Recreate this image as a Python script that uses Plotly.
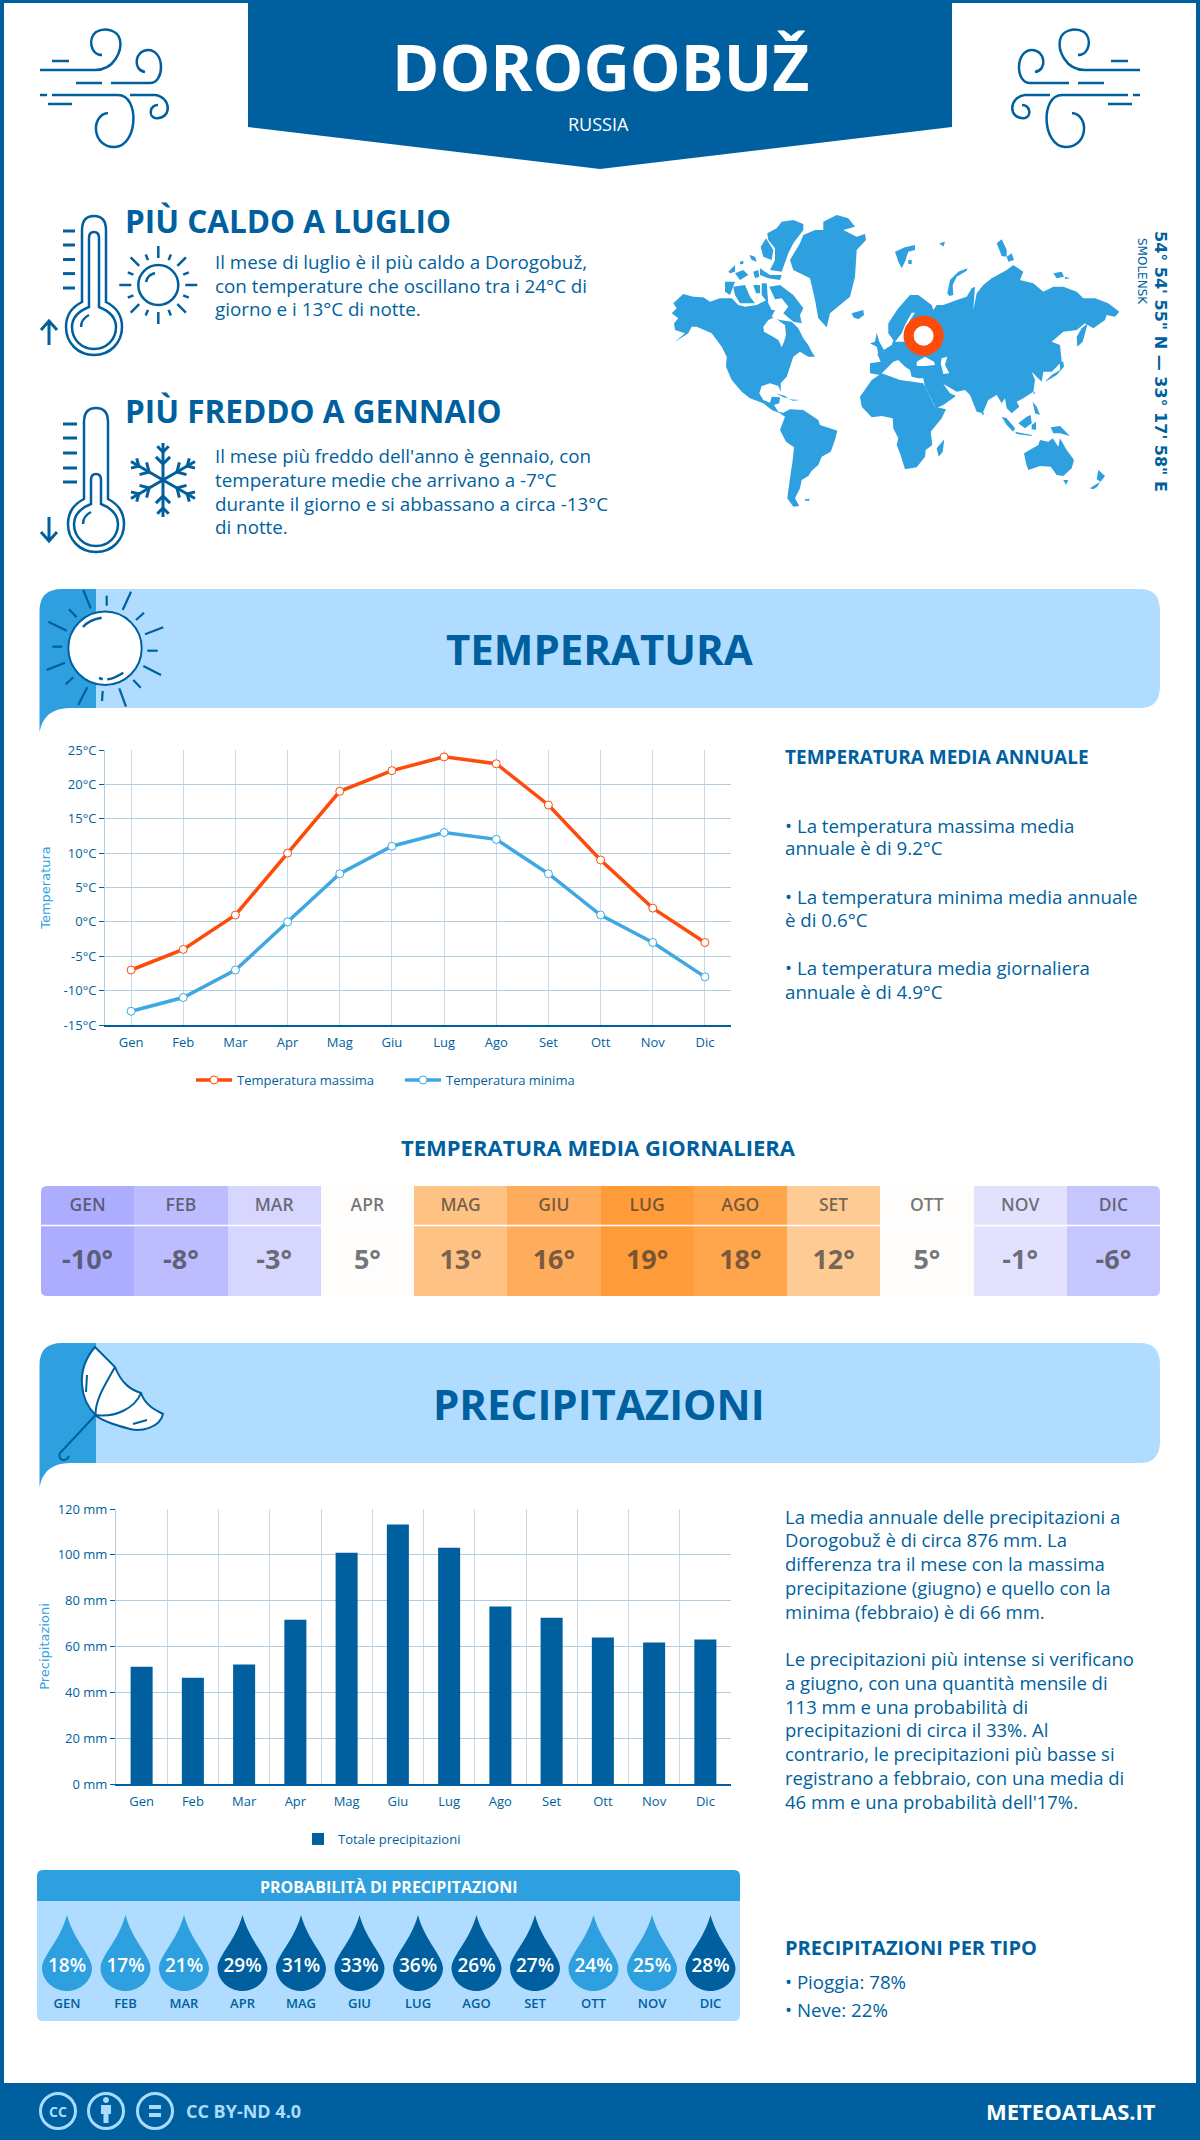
import math
import re
import plotly.graph_objects as go

# Colores
DARK = "#005f9e"
MID = "#2e9fdf"
LIGHT = "#b0dcff"
HOT = "#ff4b0a"
COLD = "#3fa7e2"
GRID_H = "#b3cde0"
GRID_V = "#c6d9e8"
FONT = "Open Sans"

# Datos
MONTHS = ["Gen", "Feb", "Mar", "Apr", "Mag", "Giu", "Lug", "Ago", "Set", "Ott", "Nov", "Dic"]
MONTHS_UP = ["GEN", "FEB", "MAR", "APR", "MAG", "GIU", "LUG", "AGO", "SET", "OTT", "NOV", "DIC"]
TEMP_MAX = [-7, -4, 1, 10, 19, 22, 24, 23, 17, 9, 2, -3]
TEMP_MIN = [-13, -11, -7, 0, 7, 11, 13, 12, 7, 1, -3, -8]
TEMP_AVG = [-10, -8, -3, 5, 13, 16, 19, 18, 12, 5, -1, -6]
PRECIP = [51.2, 46.4, 52.1, 71.7, 100.9, 113.2, 103.1, 77.4, 72.6, 63.9, 61.7, 63]
PROB = [18, 17, 21, 29, 31, 33, 36, 26, 27, 24, 25, 28]
TEMP_TICKS = [-15, -10, -5, 0, 5, 10, 15, 20, 25]
PRECIP_TICKS = [0, 20, 40, 60, 80, 100, 120]
HEAT_STOPS = [(-10, "#adadff"), (-8, "#bcbcff"), (-6, "#c6c6ff"), (-3, "#d6d6ff"), (-1, "#e2e2ff"),
              (5, "#fefdfb"), (12, "#ffcb95"), (13, "#ffc285"), (16, "#ffad5c"), (18, "#ffa64d"), (19, "#ff9c39")]

HOT_TEXT = ["Il mese di luglio è il più caldo a Dorogobuž,",
            "con temperature che oscillano tra i 24°C di",
            "giorno e i 13°C di notte."]
COLD_TEXT = ["Il mese più freddo dell'anno è gennaio, con",
             "temperature medie che arrivano a -7°C",
             "durante il giorno e si abbassano a circa -13°C",
             "di notte."]
ANNUAL_TEXT = [("• La temperatura massima media", 825), ("annuale è di 9.2°C", 847),
               ("• La temperatura minima media annuale", 896), ("è di 0.6°C", 919),
               ("• La temperatura media giornaliera", 967), ("annuale è di 4.9°C", 991)]
PRECIP_TEXT = [("La media annuale delle precipitazioni a", 1516),
               ("Dorogobuž è di circa 876 mm. La", 1539),
               ("differenza tra il mese con la massima", 1563),
               ("precipitazione (giugno) e quello con la", 1587),
               ("minima (febbraio) è di 66 mm.", 1611),
               ("Le precipitazioni più intense si verificano", 1658),
               ("a giugno, con una quantità mensile di", 1682),
               ("113 mm e una probabilità di", 1706),
               ("precipitazioni di circa il 33%. Al", 1729),
               ("contrario, le precipitazioni più basse si", 1753),
               ("registrano a febbraio, con una media di", 1777),
               ("46 mm e una probabilità dell'17%.", 1801)]

# Contornos del mapa, cada grupo medido sobre un recorte 3x con su origen
MAP_A = (660, 210, [
    [(35, 310), (50, 295), (40, 280), (70, 252), (100, 260), (130, 262), (150, 275), (180, 265), (215, 265),
     (235, 285), (255, 290), (290, 285), (320, 270), (335, 300), (345, 300), (335, 320), (360, 330), (395, 335),
     (415, 355), (430, 385), (445, 405), (455, 425), (465, 440), (445, 440), (420, 425), (400, 440), (390, 470),
     (380, 500), (362, 520), (362, 545), (355, 528), (330, 520), (305, 528), (298, 550), (310, 570), (330, 578),
     (335, 560), (360, 562), (358, 580), (342, 585), (355, 605), (370, 608), (390, 598), (430, 600), (475, 630),
     (480, 645), (532, 662), (525, 690), (512, 725), (485, 740), (475, 765), (455, 782), (445, 798), (425, 810),
     (420, 835), (405, 865), (418, 888), (400, 890), (382, 865), (388, 820), (398, 750), (402, 712), (378, 695),
     (360, 660), (375, 620), (360, 610), (335, 600), (310, 580), (270, 565), (245, 545), (215, 510), (198, 470),
     (200, 440), (185, 410), (155, 370), (110, 350), (95, 350), (85, 370), (45, 395), (75, 370), (45, 360),
     (42, 340), (55, 325)],
    [(390, 150), (420, 100), (430, 75), (465, 60), (490, 60), (490, 35), (530, 15), (565, 25), (585, 50), (550, 60),
     (590, 80), (615, 72), (618, 90), (590, 120), (585, 200), (570, 260), (510, 310), (500, 352), (475, 325),
     (465, 270), (450, 205), (400, 180)],
    [(322, 70), (350, 55), (365, 35), (400, 30), (430, 42), (430, 60), (400, 100), (385, 130), (365, 185), (330, 180),
     (345, 150), (345, 115), (325, 90)],
    [(302, 110), (318, 85), (340, 120), (335, 150), (310, 140)],
    [(300, 175), (330, 195), (365, 195), (360, 210), (325, 205), (300, 195)],
    [(328, 230), (360, 225), (400, 255), (430, 295), (420, 315), (425, 340), (400, 335), (370, 310), (385, 290),
     (365, 265), (345, 268)],
    [(220, 230), (255, 225), (270, 260), (285, 280), (240, 280), (225, 255)],
    [(195, 215), (225, 215), (210, 255), (195, 245)],
    [(205, 185), (225, 165), (225, 185), (210, 190)],
    [(225, 190), (250, 180), (265, 195), (240, 210)],
    [(280, 185), (295, 180), (298, 200), (285, 205)],
    [(280, 225), (300, 225), (300, 250), (288, 250)],
    [(305, 220), (320, 220), (325, 280), (305, 255)],
    [(268, 135), (285, 140), (290, 155), (275, 150)],
    [(240, 155), (250, 152), (250, 162), (240, 163)],
    [(575, 310), (610, 300), (612, 315), (595, 328), (580, 322)],
])
MAP_B = (860, 230, [
    [(85, 280), (115, 235), (150, 195), (175, 195), (215, 225), (220, 240), (230, 225), (250, 225), (290, 210),
     (320, 200), (335, 175), (345, 170), (340, 240), (350, 190), (370, 165), (395, 145), (440, 120), (460, 105),
     (490, 125), (480, 150), (520, 160), (550, 185), (580, 170), (610, 170), (650, 185), (670, 205), (705, 205),
     (745, 220), (778, 245), (765, 260), (740, 255), (735, 270), (700, 295), (675, 280), (650, 300), (610, 305),
     (575, 335), (600, 345), (605, 395), (575, 425), (550, 425), (545, 455), (515, 425), (525, 450), (520, 485),
     (490, 505), (470, 515), (478, 530), (455, 550), (440, 535), (435, 505), (425, 520), (410, 495), (385, 510),
     (368, 550), (350, 545), (330, 495), (315, 480), (290, 485), (265, 470), (250, 462), (270, 490), (288, 498),
     (250, 525), (228, 535), (195, 470), (190, 445), (175, 445), (155, 440), (150, 420), (135, 410), (115, 390),
     (100, 395), (85, 410), (60, 435), (30, 430), (30, 400), (62, 395), (52, 372), (95, 345), (100, 330), (85, 310)],
    [(105, 65), (135, 52), (165, 45), (165, 60), (145, 65), (135, 95), (125, 115), (115, 95)],
    [(145, 90), (155, 90), (155, 102), (145, 102)],
    [(238, 40), (255, 35), (250, 50)],
    [(262, 190), (270, 150), (295, 125), (322, 115), (320, 122), (290, 140), (278, 165), (280, 195), (268, 198)],
    [(410, 40), (425, 28), (440, 60), (440, 80), (425, 78)],
    [(440, 80), (455, 70), (462, 90), (445, 95)],
    [(580, 130), (605, 125), (612, 140), (590, 145)],
    [(615, 140), (630, 145), (615, 147)],
    [(652, 350), (650, 320), (665, 295), (683, 280), (675, 310), (668, 335)],
    [(555, 455), (575, 435), (600, 420), (600, 395), (610, 395), (612, 410), (590, 435), (565, 450)],
    [(30, 340), (45, 335), (50, 308), (58, 335), (72, 360), (55, 372), (50, 350)],
])
MAP_C = (700, 360, [
    [(480, 110), (515, 60), (545, 40), (600, 60), (670, 70), (705, 140), (738, 148), (725, 175), (692, 215),
     (697, 255), (677, 270), (675, 290), (650, 322), (615, 328), (600, 280), (590, 255), (595, 235), (580, 205),
     (578, 175), (545, 168), (515, 172), (485, 140)],
    [(710, 265), (733, 238), (728, 275), (716, 290)],
    [(315, 418), (328, 416), (328, 422), (315, 422)],
    [(228, 100), (255, 108), (265, 115), (250, 112)],
    [(265, 118), (298, 120), (280, 122)],
])
MAP_D = (960, 370, [
    [(65, 125), (73, 130), (68, 137)],
    [(125, 140), (140, 145), (165, 175), (160, 185), (140, 165)],
    [(165, 185), (215, 195), (215, 198), (170, 192)],
    [(175, 160), (200, 140), (212, 135), (215, 160), (195, 175)],
    [(215, 165), (228, 155), (228, 180), (215, 178)],
    [(272, 172), (300, 168), (330, 198), (300, 190), (280, 190)],
    [(218, 95), (230, 110), (240, 135), (225, 130)],
    [(220, 65), (225, 65), (222, 75)],
    [(192, 250), (235, 225), (240, 210), (265, 215), (278, 205), (295, 230), (300, 205), (320, 240), (342, 270),
     (335, 295), (310, 318), (290, 315), (272, 290), (240, 288), (205, 300), (198, 280)],
    [(310, 330), (325, 330), (318, 345)],
    [(415, 300), (435, 318), (422, 335), (410, 328)],
    [(390, 355), (420, 335), (412, 350), (400, 358)],
])
MAP_WATER = (860, 230, [
    [(105, 335), (125, 310), (135, 285), (155, 248), (165, 248), (150, 270), (140, 300), (135, 335)],
    [(170, 395), (195, 380), (222, 395), (225, 405), (195, 408), (170, 408)],
    [(245, 385), (262, 380), (255, 405), (268, 430), (250, 432), (242, 400)],
])
HUDSON = (660, 210, [
    [(310, 350), (325, 330), (345, 320), (360, 335), (375, 345), (378, 375), (372, 395), (365, 412), (355, 390),
     (330, 375), (312, 365)],
])
BANNER_RAYS = [(160, 15, 182, 70), (230, 32, 230, 62), (303, 20, 278, 75), (342, 83, 318, 105), (400, 127, 345, 148),
               (383, 197, 352, 197), (393, 270, 340, 243), (332, 308, 310, 285), (268, 310, 288, 365),
               (218, 318, 216, 348), (172, 307, 145, 360), (130, 277, 107, 298), (105, 233, 50, 255),
               (97, 185, 67, 185), (110, 137, 55, 110), (140, 97, 117, 73)]


def map_paths(group):
    ox, oy, polys = group
    paths = []
    for poly in polys:
        paths.append("M" + " L".join(f"{ox + x / 3:.1f},{oy + y / 3:.1f}" for x, y in poly) + " Z")
    return paths


def mirror(path):
    return re.sub(r"([\d.]+),([\d.]+)", lambda m: f"{1180 - float(m.group(1))},{m.group(2)}", path)


shapes = []
notes = []


def area(path, fill, line=None, width=0, layer="below"):
    shapes.append(dict(type="path", path=path, xref="x", yref="y", fillcolor=fill, layer=layer,
                       line=dict(color=line or fill, width=width)))


def stroke(path, width=2, color=DARK):
    shapes.append(dict(type="path", path=path, xref="x", yref="y", layer="below",
                       line=dict(color=color, width=width)))


def circle(cx, cy, r, fill="rgba(0,0,0,0)", line=DARK, width=2):
    shapes.append(dict(type="circle", xref="x", yref="y", x0=cx - r, x1=cx + r, y0=cy - r, y1=cy + r,
                       fillcolor=fill, layer="below", line=dict(color=line, width=width)))


def label(text, x, y, size, weight=400, anchor="left", color=DARK, family=FONT, angle=0):
    notes.append(dict(text=text, x=x, y=y, xref="x", yref="y", showarrow=False, xanchor=anchor, yanchor="middle",
                      textangle=angle, font=dict(family=family, size=size, color=color, weight=weight)))


def rays(cx, cy, count, r0, r1, r2, width=2):
    for k in range(count):
        a = 2 * math.pi * k / count
        end = r1 if k % 2 == 0 else r2
        stroke(f"M{cx + r0 * math.sin(a):.1f},{cy - r0 * math.cos(a):.1f} "
               f"L{cx + end * math.sin(a):.1f},{cy - end * math.cos(a):.1f}", width)


def thermometer(cx, cy, top, inner_top):
    # cx, cy: centro del bulbo; top: extremo del tubo exterior; inner_top: extremo del tubo interior
    stroke(f"M{cx - 12},{cy - 25} C{cx - 22},{cy - 20} {cx - 28},{cy - 11} {cx - 28},{cy} "
           f"C{cx - 28},{cy + 16} {cx - 16},{cy + 28} {cx},{cy + 28} "
           f"C{cx + 16},{cy + 28} {cx + 28},{cy + 16} {cx + 28},{cy} "
           f"C{cx + 28},{cy - 11} {cx + 22},{cy - 20} {cx + 12},{cy - 25} "
           f"L{cx + 12},{top + 14} Q{cx + 12},{top} {cx},{top} Q{cx - 12},{top} {cx - 12},{top + 14} Z", 2.5)
    stroke(f"M{cx - 5},{cy - 20} C{cx - 15},{cy - 16} {cx - 22},{cy - 9} {cx - 22},{cy} "
           f"C{cx - 22},{cy + 13} {cx - 12},{cy + 22} {cx},{cy + 22} "
           f"C{cx + 12},{cy + 22} {cx + 22},{cy + 13} {cx + 22},{cy} "
           f"C{cx + 22},{cy - 9} {cx + 15},{cy - 16} {cx + 5},{cy - 20} "
           f"L{cx + 5},{inner_top + 6} Q{cx + 5},{inner_top} {cx},{inner_top} Q{cx - 5},{inner_top} {cx - 5},{inner_top + 6} Z",
           2.5)
    stroke(f"M{cx - 13},{cy} C{cx - 13},{cy - 7} {cx - 9},{cy - 10} {cx - 5},{cy - 12}", 2.5)


# Marco y cabecera
area("M0,0 L1200,0 L1200,3 L0,3 Z", DARK)
area("M0,0 L4,0 L4,2140 L0,2140 Z", DARK)
area("M1196,0 L1200,0 L1200,2140 L1196,2140 Z", DARK)
area("M248,0 L952,0 L952,127 L600,169 L248,127 Z", DARK)
area("M0,2083 L1200,2083 L1200,2140 L0,2140 Z", DARK)
label("DOROGOBUŽ", 600, 66, 64, 700, "center", "white")
label("RUSSIA", 598, 124, 18, 400, "center", "white")

# Iconos de viento
WIND = ["M40,70 L95,70 C115,70 122,50 120,40 C118,30 105,27 96,32 C88,38 90,55 102,55",
        "M52,61 L69,61", "M76,83 L102,83",
        "M111,83 L150,83 C165,83 165,50 148,50 C135,50 132,70 145,72",
        "M40,95 L47,95", "M52,95 L118,95 C140,95 138,146 115,147 C92,148 90,115 108,113",
        "M130,95 L155,95 C172,97 172,120 155,118 C148,116 150,105 158,105",
        "M48,104 L72,104"]
for p in WIND:
    stroke(p, 2.5)
    stroke(mirror(p), 2.5)

# Termómetros
thermometer(94, 327, 216, 232)
for y in [231, 245, 259.5, 273.6, 288]:
    stroke(f"M63,{y} L75,{y}", 3)
stroke("M49,345 L49,321 M41,330 L49,321 L57,330", 3)
thermometer(96, 524, 408, 474)
for y in [424, 438, 453, 468, 482]:
    stroke(f"M63,{y} L77,{y}", 3)
stroke("M49,517 L49,541 M41,532 L49,541 L57,532", 3)

# Sol y copo
circle(158.3, 285, 20, width=2.5)
stroke("M146,282 C147,277 151,274 155,273", 2.5)
rays(158.3, 285, 16, 27, 39, 33, 2.5)
for k in range(6):
    a = math.pi * k / 3
    c, s = math.cos(a), math.sin(a)
    stroke(f"M163,480 L{163 + 37 * s:.1f},{480 - 37 * c:.1f}", 3)
    for d, b in [(16, 10), (28, 8)]:
        for sign in (-1, 1):
            t = a + sign * math.pi / 4
            px = 163 + d * s
            py = 480 - d * c
            stroke(f"M{px:.1f},{py:.1f} L{px + b * math.sin(t):.1f},{py - b * math.cos(t):.1f}", 3)

# Mapa
for group in [MAP_A, MAP_B, MAP_C, MAP_D]:
    for p in map_paths(group):
        area(p, MID)
for group in [HUDSON, MAP_WATER]:
    for p in map_paths(group):
        area(p, "white")
circle(923.6, 335.7, 15, fill="white", line=HOT, width=10)
label('54° 54\' 55" N — 33° 17\' 58" E', 1161, 361, 16, 700, "center", family="DejaVu Sans", angle=90)
label("SMOLENSK", 1142, 271, 12, 400, "center", family="DejaVu Sans", angle=90)

# Textos superiores
label("PIÙ CALDO A LUGLIO", 123, 220, 31.5, 700)
for i, line in enumerate(HOT_TEXT):
    label(line, 213, 262 + 23.6 * i, 18.8)
label("PIÙ FREDDO A GENNAIO", 123, 410, 31.5, 700)
for i, line in enumerate(COLD_TEXT):
    label(line, 213, 456 + 23.8 * i, 18.8)


def banner(y0, y1, title):
    area(f"M60,{y0} L1140,{y0} Q1160,{y0} 1160,{y0 + 22} L1160,{y1 - 22} Q1160,{y1} 1140,{y1} L60,{y1} Z", LIGHT)
    area(f"M39.5,{y0 + 22} Q39.5,{y0} 62,{y0} L96,{y0} L96,{y1} L70,{y1} Q44,{y1} 39.5,{y1 + 24} Z", MID)
    label(title, 599, (y0 + y1) / 2, 42, 700, "center")


banner(589, 708, "TEMPERATURA")
banner(1343, 1463, "PRECIPITAZIONI")

# Icono del sol en la banda
circle(105, 648.3, 36.7, fill="white", width=2)
stroke("M83,627 C87,622 94,619 101.6,617.7", 2.5)
stroke("M99,678 L102.7,679.3", 2.5)
stroke("M107.3,679.3 C113,679 118,676 123.3,672.7", 2.5)
for x0, y0, x1, y1 in BANNER_RAYS:
    stroke(f"M{30 + x0 / 3:.1f},{585 + y0 / 3:.1f} L{30 + x1 / 3:.1f},{585 + y1 / 3:.1f}", 2.2)

# Icono del paraguas
area("M95,1347 L115,1367 C122,1385 132,1390 141,1393 C145,1405 155,1410 163,1414 C160,1428 140,1432 130,1429 "
     "C115,1425 100,1420 95.6,1415 C80,1400 75,1370 95,1347 Z", "white", DARK, 2)
stroke("M115,1367 C105,1385 95,1400 95.6,1415", 2)
stroke("M141,1393 C135,1408 115,1418 96,1415", 2)
stroke("M133,1424 L147,1420", 2)
stroke("M87,1375 L86,1392 M95.6,1415 L60,1453 C57,1460 66,1463 69,1456", 2)

# Bloques de texto de la derecha
label("TEMPERATURA MEDIA ANNUALE", 783, 757, 19, 700)
for line, y in ANNUAL_TEXT:
    label(line, 783, y, 18.7)
label("TEMPERATURA MEDIA GIORNALIERA", 598, 1147, 22, 700, "center")
for line, y in PRECIP_TEXT:
    label(line, 783, y, 18.5)
label("PRECIPITAZIONI PER TIPO", 783, 1947, 20, 700)
label("• Pioggia: 78%", 783, 1981, 18.7)
label("• Neve: 22%", 783, 2009, 18.7)

# Panel de probabilidad
area("M37,1901 L37,1876 Q37,1870 43,1870 L734,1870 Q740,1870 740,1876 L740,1901 Z", MID)
area("M37,1901 L740,1901 L740,2015 Q740,2021 734,2021 L43,2021 Q37,2021 37,2015 Z", LIGHT)
label("PROBABILITÀ DI PRECIPITAZIONI", 389, 1887, 16, 700, "center", "white")
for i, p in enumerate(PROB):
    color = DARK if p >= 26 else MID
    shapes.append(dict(
        type="path", xref="x4", yref="y4", layer="below", fillcolor=color, line=dict(width=0),
        path=f"M{i},14 C{i + 0.12},40 {i + 0.427},55 {i + 0.427},67 C{i + 0.427},80 {i + 0.22},90 {i},90 "
             f"C{i - 0.22},90 {i - 0.427},80 {i - 0.427},67 C{i - 0.427},55 {i - 0.12},40 {i},14 Z"))

# Pie
FOOT = "#a8dcff"
for cx in [58, 106, 155]:
    circle(cx, 2111, 17.5, line=FOOT, width=3)
label("CC", 58, 2111, 14, 700, "center", FOOT)
circle(106, 2100, 2.5, fill=FOOT, line=FOOT, width=1)
area("M101,2105 L111,2105 L111,2114 L108.5,2114 L108.5,2123 L103.5,2123 L103.5,2114 L101,2114 Z", FOOT)
area("M149,2105 L161,2105 L161,2109 L149,2109 Z M149,2113 L161,2113 L161,2117 L149,2117 Z", FOOT)
label("CC BY-ND 4.0", 184, 2111, 18, 700, "left", FOOT)
label("METEOATLAS.IT", 1158, 2111, 22, 700, "right", "white")

# Esquinas redondeadas de la tabla
for cx, cy, sx, sy in [(41, 1186, 1, 1), (1160, 1186, -1, 1), (41, 1296, 1, -1), (1160, 1296, -1, -1)]:
    area(f"M{cx},{cy} L{cx + 6 * sx},{cy} Q{cx},{cy} {cx},{cy + 6 * sy} Z", "white", layer="above")
shapes.append(dict(type="line", xref="x", yref="y", x0=41, x1=1160, y0=1225.5, y1=1225.5, layer="above",
                   line=dict(color="white", width=1.5)))

fig = go.Figure()
fig.add_trace(go.Scatter(x=[None], y=[None], xaxis="x", yaxis="y", showlegend=False, hoverinfo="skip"))

# Gráfico de temperatura
for name, values, color, legend_id in [("Temperatura massima", TEMP_MAX, HOT, "legend"),
                                       ("Temperatura minima", TEMP_MIN, COLD, "legend3")]:
    fig.add_trace(go.Scatter(
        x=MONTHS, y=values, name=name, mode="lines+markers", xaxis="x2", yaxis="y2", legend=legend_id,
        line=dict(color=color, width=3.5),
        marker=dict(color="white", size=8, line=dict(color=color, width=1)),
    ))

# Gráfico de precipitaciones
fig.add_trace(go.Bar(x=MONTHS, y=PRECIP, name="Totale precipitazioni", xaxis="x3", yaxis="y3",
                     marker=dict(color=DARK, line=dict(width=0)), legend="legend2"))

# Gotas: porcentajes y meses
fig.add_trace(go.Scatter(x=list(range(12)), y=[66] * 12, text=[f"{p}%" for p in PROB], mode="text",
                         xaxis="x4", yaxis="y4", showlegend=False, hoverinfo="skip",
                         textfont=dict(family=FONT, size=19, color="white", weight=600)))
fig.add_trace(go.Scatter(x=list(range(12)), y=[104] * 12, text=MONTHS_UP, mode="text",
                         xaxis="x4", yaxis="y4", showlegend=False, hoverinfo="skip",
                         textfont=dict(family=FONT, size=13, color=DARK, weight=600)))

# Tabla de temperatura media
zmin, zmax = min(TEMP_AVG), max(TEMP_AVG)
colorscale = [[(t - zmin) / (zmax - zmin), c] for t, c in HEAT_STOPS]
fig.add_trace(go.Heatmap(z=[TEMP_AVG, TEMP_AVG], x=list(range(13)), y=[0, 39.5, 110], xaxis="x5", yaxis="y5",
                         colorscale=colorscale, zmin=zmin, zmax=zmax, showscale=False, hoverinfo="skip"))
mid_cells = [i + 0.5 for i in range(12)]
fig.add_trace(go.Scatter(x=mid_cells, y=[21] * 12, text=MONTHS_UP, mode="text", xaxis="x5", yaxis="y5",
                         showlegend=False, hoverinfo="skip",
                         textfont=dict(family=FONT, size=17.5, color="rgba(50,50,50,0.68)", weight=600)))
fig.add_trace(go.Scatter(x=mid_cells, y=[76] * 12, text=[f"{t}°" for t in TEMP_AVG], mode="text", xaxis="x5", yaxis="y5",
                         showlegend=False, hoverinfo="skip",
                         textfont=dict(family=FONT, size=27, color="rgba(50,50,50,0.68)", weight=700)))


def dom(a, b, total):
    return [a / total, b / total]


def ydom(top, bottom):
    return [1 - bottom / 2140, 1 - top / 2140]


tick_font = dict(family=FONT, size=13, color=DARK)
legend_font = dict(family=FONT, size=13, color=DARK)
hidden = dict(visible=False, showgrid=False, zeroline=False)

fig.update_layout(
    width=1200, height=2140, margin=dict(l=0, r=0, t=0, b=0, autoexpand=False),
    paper_bgcolor="white", plot_bgcolor="rgba(0,0,0,0)",
    shapes=shapes, annotations=notes, bargap=0.57,
    xaxis=dict(domain=[0, 1], range=[0, 1200], **hidden),
    yaxis=dict(domain=[0, 1], range=[2140, 0], **hidden),
    xaxis2=dict(domain=dom(105, 731, 1200), anchor="y2", range=[-0.5, 11.5], showgrid=True, gridcolor=GRID_V,
                gridwidth=1, showline=True, linecolor=DARK, linewidth=2, tickfont=tick_font, ticks="",
                ticklabelstandoff=4),
    yaxis2=dict(domain=ydom(750, 1025), anchor="x2", range=[-15, 25], tickvals=TEMP_TICKS,
                ticktext=[f"{t}°C" for t in TEMP_TICKS],
                showgrid=True, gridcolor=GRID_H, gridwidth=1, zeroline=False, showline=True, linecolor=GRID_H,
                ticks="outside", ticklen=5, tickcolor=DARK, tickfont=tick_font,
                title=dict(text="Temperatura", standoff=10,
                           font=dict(family="DejaVu Sans", size=13, color=MID))),
    xaxis3=dict(domain=dom(116, 731, 1200), anchor="y3", tickson="boundaries", showgrid=True, gridcolor=GRID_V,
                gridwidth=1, showline=True, linecolor=DARK, linewidth=2, tickfont=tick_font, ticks="",
                ticklabelstandoff=4),
    yaxis3=dict(domain=ydom(1509, 1784), anchor="x3", range=[0, 120], tickvals=PRECIP_TICKS,
                ticktext=[f"{t} mm" for t in PRECIP_TICKS],
                showgrid=True, gridcolor=GRID_H, gridwidth=1, zeroline=False, showline=True, linecolor=GRID_H,
                ticks="outside", ticklen=5, tickcolor=DARK, tickfont=tick_font,
                title=dict(text="Precipitazioni", standoff=5,
                           font=dict(family="DejaVu Sans", size=13, color=MID))),
    xaxis4=dict(domain=dom(37.75, 739.75, 1200), anchor="y4", range=[-0.5, 11.5], **hidden),
    yaxis4=dict(domain=ydom(1901, 2021), anchor="x4", range=[120, 0], **hidden),
    xaxis5=dict(domain=dom(41, 1160, 1200), anchor="y5", range=[0, 12], **hidden),
    yaxis5=dict(domain=ydom(1186, 1296), anchor="x5", range=[110, 0], **hidden),
    legend=dict(x=191 / 1200, y=1 - 1080 / 2140, xanchor="left", yanchor="middle", orientation="h",
                bgcolor="rgba(0,0,0,0)", font=legend_font, itemwidth=36),
    legend3=dict(x=400 / 1200, y=1 - 1080 / 2140, xanchor="left", yanchor="middle", orientation="h",
                 bgcolor="rgba(0,0,0,0)", font=legend_font, itemwidth=36),
    legend2=dict(x=298 / 1200, y=1 - 1839 / 2140, xanchor="left", yanchor="middle", orientation="h",
                 bgcolor="rgba(0,0,0,0)", font=legend_font, itemwidth=30),
)

fig.write_html("out.html", config={"displayModeBar": False},
               post_script="document.body.style.margin='0';document.body.style.overflow='hidden';")
